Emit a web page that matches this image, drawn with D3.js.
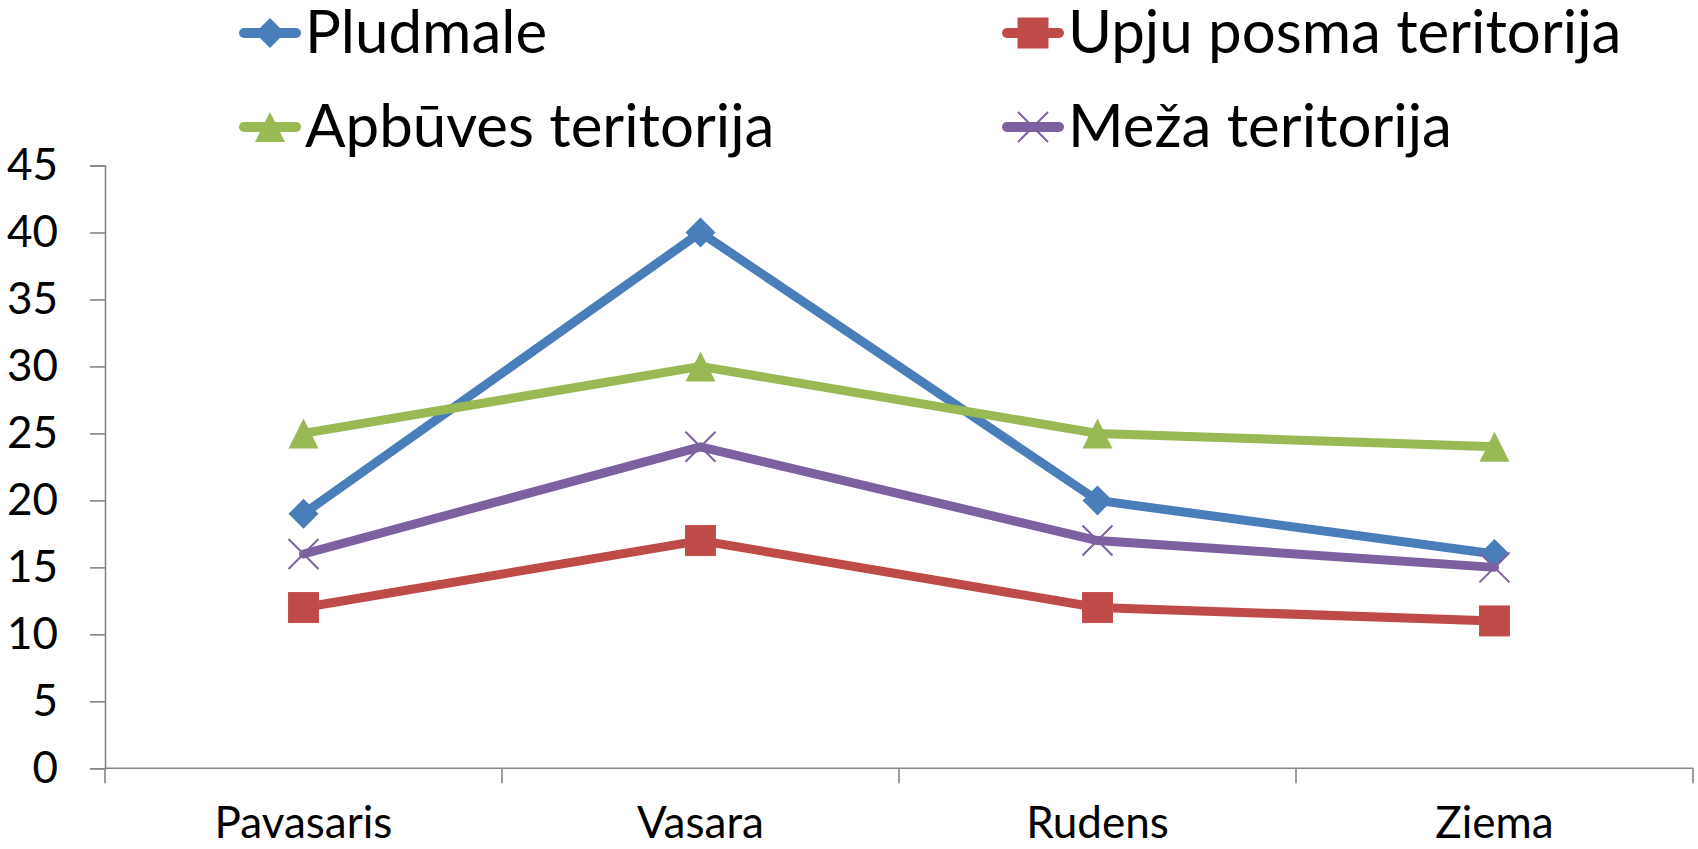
<!DOCTYPE html>
<html>
<head>
<meta charset="utf-8">
<script src="https://cdn.jsdelivr.net/npm/d3@7"></script>
<style>
  html, body { margin: 0; padding: 0; background: #fff; }
  svg { display: block; }
  text { font-family: Lato, "Open Sans", sans-serif; fill: #000; }
</style>
</head>
<body>
<svg id="chart" width="1698" height="849"></svg>
<script>
const categories = ["Pavasaris", "Vasara", "Rudens", "Ziema"];
const seriesNames = ["Pludmale", "Upju posma teritorija", "Apbūves teritorija", "Meža teritorija"];
const pludmale = [19, 40, 20, 16];
const upjuPosma = [12, 17, 12, 11];
const apbuves = [25, 30, 25, 24];
const meza = [16, 24, 17, 15];
const yTicks = [0, 5, 10, 15, 20, 25, 30, 35, 40, 45];

const colors = ["#4A7EBB", "#BE4B48", "#98B954", "#7D60A0"];
const markers = ["diamond", "square", "triangle", "x"];
const series = [pludmale, upjuPosma, apbuves, meza].map((v, i) => ({
  name: seriesNames[i], values: v, color: colors[i], marker: markers[i]
}));

const svg = d3.select("#chart");
const margin = { left: 105, right: 5, top: 165.5, bottom: 80.7 };
const W = 1698, H = 849;

const x = d3.scaleBand().domain(categories).range([margin.left, W - margin.right]).paddingInner(0).paddingOuter(0);
const y = d3.scaleLinear().domain([0, 45]).range([H - margin.bottom, margin.top]);

const axisColor = "#868686";

// Y axis
const yAxis = d3.axisLeft(y).tickValues(yTicks).tickSize(15).tickPadding(32);
const gy = svg.append("g").attr("transform", `translate(${margin.left},0)`).call(yAxis);
gy.select(".domain").attr("stroke", axisColor).attr("stroke-width", 1.6);
gy.selectAll(".tick line").attr("stroke", axisColor).attr("stroke-width", 1.6);
gy.selectAll(".tick text").attr("font-size", 44).attr("font-family", "Lato, sans-serif").attr("fill", "#000");

// X axis
const gx = svg.append("g").attr("transform", `translate(0,${y(0)})`);
gx.append("line").attr("x1", x.range()[0]).attr("x2", x.range()[1]).attr("y1", 0).attr("y2", 0)
  .attr("stroke", axisColor).attr("stroke-width", 1.6);
const boundaries = categories.map(c => x(c)).concat([x.range()[1]]);
gx.selectAll("line.tk").data(boundaries).join("line").attr("class", "tk")
  .attr("x1", d => d).attr("x2", d => d).attr("y1", 0).attr("y2", 15)
  .attr("stroke", axisColor).attr("stroke-width", 1.6);
gx.selectAll("text").data(categories).join("text")
  .attr("x", d => x(d) + x.bandwidth() / 2).attr("y", 70)
  .attr("text-anchor", "middle").attr("font-size", 44).text(d => d);

function drawMarker(g, type, color, size) {
  const s = size / 2;
  if (type === "diamond") {
    g.append("path").attr("d", `M0,${-s}L${s},0L0,${s}L${-s},0Z`).attr("fill", color);
  } else if (type === "square") {
    g.append("rect").attr("x", -s).attr("y", -s).attr("width", size).attr("height", size)
      .attr("fill", color).attr("stroke", d3.color(color).brighter(0.15)).attr("stroke-width", 1);
  } else if (type === "triangle") {
    g.append("path").attr("d", `M0,${-s}L${s},${s}L${-s},${s}Z`).attr("fill", color);
  } else if (type === "x") {
    g.append("path").attr("d", `M${-s},${-s}L${s},${s}M${s},${-s}L${-s},${s}`)
      .attr("stroke", color).attr("stroke-width", 2).attr("fill", "none");
  }
}

const line = d3.line().x((d, i) => x(categories[i]) + x.bandwidth() / 2).y(d => y(d));

series.forEach(s => {
  const g = svg.append("g");
  g.append("path").datum(s.values).attr("d", line)
    .attr("fill", "none").attr("stroke", s.color).attr("stroke-width", 9)
    .attr("stroke-linejoin", "round").attr("stroke-linecap", "round");
  s.values.forEach((v, i) => {
    const mg = g.append("g").attr("transform", `translate(${x(categories[i]) + x.bandwidth() / 2},${y(v)})`);
    drawMarker(mg, s.marker, s.color, 30);
  });
});

// Legend
const legendPos = [
  { lx: 240, ly: 33 }, { lx: 1003, ly: 33 },
  { lx: 240, ly: 127 }, { lx: 1003, ly: 127 }
];
series.forEach((s, i) => {
  const p = legendPos[i];
  const g = svg.append("g").attr("transform", `translate(${p.lx},${p.ly})`);
  g.append("line").attr("x1", 4).attr("x2", 56).attr("y1", 0).attr("y2", 0)
    .attr("stroke", s.color).attr("stroke-width", 10).attr("stroke-linecap", "round");
  const mg = g.append("g").attr("transform", "translate(30,0)");
  drawMarker(mg, s.marker, s.color, 30);
  g.append("text").attr("x", 65).attr("y", 20).attr("font-size", 60).text(s.name);
});
</script>
</body>
</html>
